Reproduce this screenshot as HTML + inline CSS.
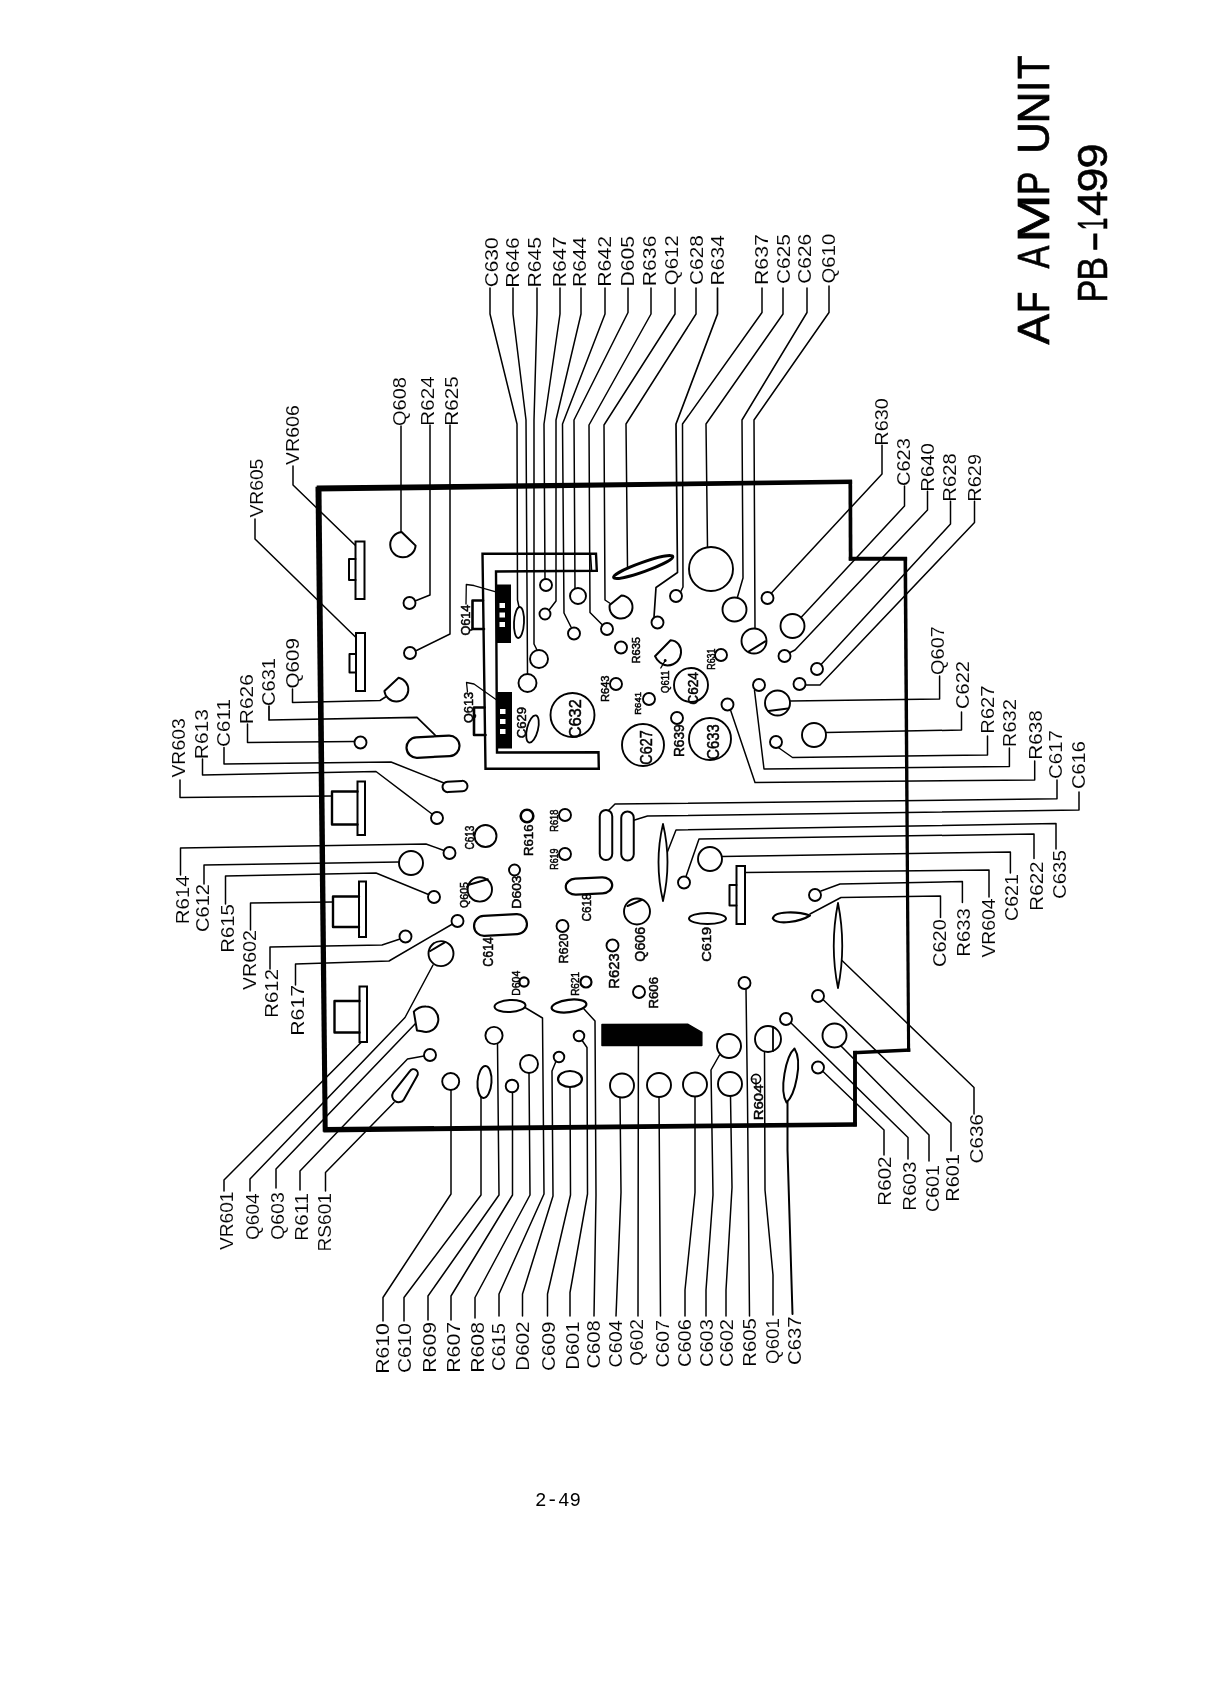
<!DOCTYPE html>
<html><head><meta charset="utf-8"><title>AF AMP UNIT PB-1499</title>
<style>
html,body{margin:0;padding:0;background:#fff;}
svg{display:block;}
text{font-family:"Liberation Sans",sans-serif;fill:#000;}
.mono{font-family:"Liberation Mono",monospace;}
</style></head><body>
<svg width="1220" height="1682" viewBox="0 0 1220 1682">
<rect x="0" y="0" width="1220" height="1682" fill="#fff"/>
<g opacity="0.999">
<polygon points="316.74,491.62 852.13,483.98 852.07,479.58 316.66,485.62" fill="#000"/>
<polygon points="848.44,480.01 848.76,560.61 852.46,560.59 852.14,479.99" fill="#000"/>
<polygon points="848.80,560.80 907.10,560.80 907.10,556.80 848.80,556.80" fill="#000"/>
<polygon points="903.49,557.01 907.06,1051.81 910.16,1051.79 907.09,556.99" fill="#000"/>
<polygon points="910.31,1048.16 853.11,1050.89 853.29,1054.49 910.48,1051.66" fill="#000"/>
<polygon points="853.05,1050.80 853.05,1126.30 856.95,1126.30 856.95,1050.80" fill="#000"/>
<polygon points="856.78,1122.28 323.37,1127.12 323.43,1132.52 856.82,1126.68" fill="#000"/>
<polygon points="327.72,1131.57 321.48,486.77 315.48,486.83 322.72,1131.63" fill="#000"/>
<polyline points="490,288 490,314 517,424 517.5,600 519,607" fill="none" stroke="#000" stroke-width="1.5" stroke-linejoin="round" stroke-linecap="round" />
<polyline points="513,288 513,314 526,420 527.5,674" fill="none" stroke="#000" stroke-width="1.5" stroke-linejoin="round" stroke-linecap="round" />
<polyline points="537,288 537,314 534,420 534,644 537.5,651" fill="none" stroke="#000" stroke-width="1.5" stroke-linejoin="round" stroke-linecap="round" />
<polyline points="560,288 560,314 544,424 545,579" fill="none" stroke="#000" stroke-width="1.5" stroke-linejoin="round" stroke-linecap="round" />
<polyline points="581,288 581,314 556,420 556,601 549.5,609.5" fill="none" stroke="#000" stroke-width="1.5" stroke-linejoin="round" stroke-linecap="round" />
<polyline points="605,288 605,314 562.5,424 564,613 571,627" fill="none" stroke="#000" stroke-width="1.5" stroke-linejoin="round" stroke-linecap="round" />
<polyline points="628,288 628,312.5 574,420 575,588" fill="none" stroke="#000" stroke-width="1.5" stroke-linejoin="round" stroke-linecap="round" />
<polyline points="651,288 651,314 589,425 590,612.5 602.5,625" fill="none" stroke="#000" stroke-width="1.5" stroke-linejoin="round" stroke-linecap="round" />
<polyline points="675,288 675,314 604,425 605,600 611,604" fill="none" stroke="#000" stroke-width="1.5" stroke-linejoin="round" stroke-linecap="round" />
<polyline points="696,288 696,314 626,424 627.5,567" fill="none" stroke="#000" stroke-width="1.5" stroke-linejoin="round" stroke-linecap="round" />
<polyline points="717.5,288 717.5,314 676,424 677.5,572.5 656,587.5 654,617" fill="none" stroke="#000" stroke-width="1.7" stroke-linejoin="round" stroke-linecap="round" />
<polyline points="762,288 762,312.5 682.5,424 683,587 680,593" fill="none" stroke="#000" stroke-width="1.5" stroke-linejoin="round" stroke-linecap="round" />
<polyline points="783,288 783,314 706,424 707.5,547" fill="none" stroke="#000" stroke-width="1.5" stroke-linejoin="round" stroke-linecap="round" />
<polyline points="807,288 807,312.5 742,420 743,578 737.5,597" fill="none" stroke="#000" stroke-width="1.5" stroke-linejoin="round" stroke-linecap="round" />
<polyline points="829,286 829,312.5 754,420 755,628" fill="none" stroke="#000" stroke-width="1.5" stroke-linejoin="round" stroke-linecap="round" />
<polyline points="293,466 293,485 356,546" fill="none" stroke="#000" stroke-width="1.5" stroke-linejoin="round" stroke-linecap="round" />
<polyline points="255,519 255,539 356,637.5" fill="none" stroke="#000" stroke-width="1.5" stroke-linejoin="round" stroke-linecap="round" />
<polyline points="401,426 401,533" fill="none" stroke="#000" stroke-width="1.5" stroke-linejoin="round" stroke-linecap="round" />
<polyline points="430,425 430,595 415,601" fill="none" stroke="#000" stroke-width="1.5" stroke-linejoin="round" stroke-linecap="round" />
<polyline points="450,425 450,634 415.5,651" fill="none" stroke="#000" stroke-width="1.5" stroke-linejoin="round" stroke-linecap="round" />
<polyline points="292.5,689 292.5,702.5 380,700.5 385.5,697" fill="none" stroke="#000" stroke-width="1.5" stroke-linejoin="round" stroke-linecap="round" />
<polyline points="269,706 269,720 417,717.3 436,736" fill="none" stroke="#000" stroke-width="1.7" stroke-linejoin="round" stroke-linecap="round" />
<polyline points="247.5,724 247.5,742.5 354,741.5" fill="none" stroke="#000" stroke-width="1.5" stroke-linejoin="round" stroke-linecap="round" />
<polyline points="224,747.5 224,764 391,762 444,783" fill="none" stroke="#000" stroke-width="1.5" stroke-linejoin="round" stroke-linecap="round" />
<polyline points="202.5,759 202.5,775 376,771.5 432,814" fill="none" stroke="#000" stroke-width="1.5" stroke-linejoin="round" stroke-linecap="round" />
<polyline points="180,780 180,797.5 332,796" fill="none" stroke="#000" stroke-width="1.5" stroke-linejoin="round" stroke-linecap="round" />
<polyline points="180.5,875 180.5,848 426,844 444,850.5" fill="none" stroke="#000" stroke-width="1.5" stroke-linejoin="round" stroke-linecap="round" />
<polyline points="204,884 204,865 399,862" fill="none" stroke="#000" stroke-width="1.5" stroke-linejoin="round" stroke-linecap="round" />
<polyline points="225.5,904 225.5,876 376,873 428.5,894.5" fill="none" stroke="#000" stroke-width="1.5" stroke-linejoin="round" stroke-linecap="round" />
<polyline points="250.5,930 250.5,903 333,902" fill="none" stroke="#000" stroke-width="1.5" stroke-linejoin="round" stroke-linecap="round" />
<polyline points="270,969 270,947 382,945 400,939" fill="none" stroke="#000" stroke-width="1.5" stroke-linejoin="round" stroke-linecap="round" />
<polyline points="295.5,985 295.5,964 389,961 452.5,924" fill="none" stroke="#000" stroke-width="1.5" stroke-linejoin="round" stroke-linecap="round" />
<polyline points="224,1191 224,1180 361,1042.5" fill="none" stroke="#000" stroke-width="1.5" stroke-linejoin="round" stroke-linecap="round" />
<polyline points="250,1191 250,1179 405,1017.5 433,965" fill="none" stroke="#000" stroke-width="1.5" stroke-linejoin="round" stroke-linecap="round" />
<polyline points="276,1188 276,1169 416,1023" fill="none" stroke="#000" stroke-width="1.5" stroke-linejoin="round" stroke-linecap="round" />
<polyline points="300,1190 300,1171 407.5,1059 424,1056" fill="none" stroke="#000" stroke-width="1.5" stroke-linejoin="round" stroke-linecap="round" />
<polyline points="325.5,1191 325.5,1172.5 394,1102.5" fill="none" stroke="#000" stroke-width="1.5" stroke-linejoin="round" stroke-linecap="round" />
<polyline points="383,1321 383,1297.5 451,1194 451,1090" fill="none" stroke="#000" stroke-width="1.5" stroke-linejoin="round" stroke-linecap="round" />
<polyline points="404,1321 404,1297.5 481,1195 481,1097" fill="none" stroke="#000" stroke-width="1.5" stroke-linejoin="round" stroke-linecap="round" />
<polyline points="428,1320 428,1296 499,1195 497.5,1044" fill="none" stroke="#000" stroke-width="1.5" stroke-linejoin="round" stroke-linecap="round" />
<polyline points="451,1320 451,1296 512.5,1195 512.5,1092" fill="none" stroke="#000" stroke-width="1.5" stroke-linejoin="round" stroke-linecap="round" />
<polyline points="475,1318 475,1297.5 530,1195 529,1072" fill="none" stroke="#000" stroke-width="1.5" stroke-linejoin="round" stroke-linecap="round" />
<polyline points="499,1316 499,1294 544,1194 542.5,1018 525,1007.5" fill="none" stroke="#000" stroke-width="1.5" stroke-linejoin="round" stroke-linecap="round" />
<polyline points="522.5,1316 522.5,1294 553,1196 552,1071 555.5,1062.5" fill="none" stroke="#000" stroke-width="1.5" stroke-linejoin="round" stroke-linecap="round" />
<polyline points="547.5,1316 547.5,1294 570.5,1195 570,1087" fill="none" stroke="#000" stroke-width="1.5" stroke-linejoin="round" stroke-linecap="round" />
<polyline points="570,1316 570,1292.5 587.5,1194 587,1047.5 582.5,1041" fill="none" stroke="#000" stroke-width="1.5" stroke-linejoin="round" stroke-linecap="round" />
<polyline points="594,1316 596,1195 595,1021 584,1009" fill="none" stroke="#000" stroke-width="1.5" stroke-linejoin="round" stroke-linecap="round" />
<polyline points="616,1316 621,1192.5 620,1097" fill="none" stroke="#000" stroke-width="1.5" stroke-linejoin="round" stroke-linecap="round" />
<polyline points="638,1316 638.4,1045" fill="none" stroke="#000" stroke-width="1.5" stroke-linejoin="round" stroke-linecap="round" />
<polyline points="660.5,1316 659,1097" fill="none" stroke="#000" stroke-width="1.5" stroke-linejoin="round" stroke-linecap="round" />
<polyline points="685,1316 685,1290 695,1192.5 695,1096" fill="none" stroke="#000" stroke-width="1.5" stroke-linejoin="round" stroke-linecap="round" />
<polyline points="706,1316 706,1290 713,1195 711,1070 719.5,1055" fill="none" stroke="#000" stroke-width="1.5" stroke-linejoin="round" stroke-linecap="round" />
<polyline points="726,1316 726,1290 732,1187.5 730.5,1096" fill="none" stroke="#000" stroke-width="1.5" stroke-linejoin="round" stroke-linecap="round" />
<polyline points="749.5,1316 747.5,1100 746,989" fill="none" stroke="#000" stroke-width="1.5" stroke-linejoin="round" stroke-linecap="round" />
<polyline points="773,1315 773,1275 765,1190 764.5,1052" fill="none" stroke="#000" stroke-width="1.5" stroke-linejoin="round" stroke-linecap="round" />
<polyline points="792.5,1314 787.5,1150 787.5,1102" fill="none" stroke="#000" stroke-width="2.0" stroke-linejoin="round" stroke-linecap="round" />
<polyline points="882,445 882,474 771.5,593" fill="none" stroke="#000" stroke-width="1.5" stroke-linejoin="round" stroke-linecap="round" />
<polyline points="904.5,486 904.5,506 801,617.5" fill="none" stroke="#000" stroke-width="1.5" stroke-linejoin="round" stroke-linecap="round" />
<polyline points="927.5,491 927.5,510 795,650 790,652.5" fill="none" stroke="#000" stroke-width="1.5" stroke-linejoin="round" stroke-linecap="round" />
<polyline points="950.5,501 950.5,524 821.5,664" fill="none" stroke="#000" stroke-width="1.5" stroke-linejoin="round" stroke-linecap="round" />
<polyline points="974.5,501 974.5,522.5 820,685 805.5,685" fill="none" stroke="#000" stroke-width="1.5" stroke-linejoin="round" stroke-linecap="round" />
<polyline points="939.6,676 939.6,699 790.5,701" fill="none" stroke="#000" stroke-width="1.5" stroke-linejoin="round" stroke-linecap="round" />
<polyline points="961.5,712 961.5,730 826,732.5" fill="none" stroke="#000" stroke-width="1.5" stroke-linejoin="round" stroke-linecap="round" />
<polyline points="987.5,736 987.5,755 792.5,757.5 779,748" fill="none" stroke="#000" stroke-width="1.5" stroke-linejoin="round" stroke-linecap="round" />
<polyline points="1009.4,748 1009.4,766.5 764,769 754.5,690.5" fill="none" stroke="#000" stroke-width="1.5" stroke-linejoin="round" stroke-linecap="round" />
<polyline points="1034.7,761 1034.7,780 755,782.5 730.5,710" fill="none" stroke="#000" stroke-width="1.5" stroke-linejoin="round" stroke-linecap="round" />
<polyline points="1057,780 1057,798.8 615,804 609,810" fill="none" stroke="#000" stroke-width="1.5" stroke-linejoin="round" stroke-linecap="round" />
<polyline points="1079,792 1079,810 647.5,816 633,820.5" fill="none" stroke="#000" stroke-width="1.5" stroke-linejoin="round" stroke-linecap="round" />
<polyline points="1056,849 1056,823.5 676,830 667,853" fill="none" stroke="#000" stroke-width="1.5" stroke-linejoin="round" stroke-linecap="round" />
<polyline points="1034,858.5 1034,834 699,839 686,876.5" fill="none" stroke="#000" stroke-width="1.5" stroke-linejoin="round" stroke-linecap="round" />
<polyline points="1010.4,873 1010.4,852 722,856.5" fill="none" stroke="#000" stroke-width="1.5" stroke-linejoin="round" stroke-linecap="round" />
<polyline points="989,897 989,870 745,872.5" fill="none" stroke="#000" stroke-width="1.5" stroke-linejoin="round" stroke-linecap="round" />
<polyline points="962.4,902.5 962.4,881.6 840,884 821,891" fill="none" stroke="#000" stroke-width="1.5" stroke-linejoin="round" stroke-linecap="round" />
<polyline points="940.5,917.5 940.5,896 841,897.5 810,914" fill="none" stroke="#000" stroke-width="1.5" stroke-linejoin="round" stroke-linecap="round" />
<polyline points="974,1114 974,1087.5 842,960.5" fill="none" stroke="#000" stroke-width="1.5" stroke-linejoin="round" stroke-linecap="round" />
<polyline points="951,1151 951,1123 823.5,1000" fill="none" stroke="#000" stroke-width="1.5" stroke-linejoin="round" stroke-linecap="round" />
<polyline points="929,1161 929,1135 841,1046" fill="none" stroke="#000" stroke-width="1.5" stroke-linejoin="round" stroke-linecap="round" />
<polyline points="908,1159 908,1137.5 791,1023" fill="none" stroke="#000" stroke-width="1.5" stroke-linejoin="round" stroke-linecap="round" />
<polyline points="884,1155 884,1130 823,1071.5" fill="none" stroke="#000" stroke-width="1.5" stroke-linejoin="round" stroke-linecap="round" />
<path d="M482.5,553.8 L596,553.8 L596.8,570.8 L496,571.5 L497,752.5 L598.5,752.3 L598.8,768.8 L485.5,768.8 Z" fill="none" stroke="#000" stroke-width="2.4" stroke-linejoin="miter"/>
<polyline points="590.5,555 591.5,570" fill="none" stroke="#000" stroke-width="1.6" stroke-linejoin="round" stroke-linecap="round" />
<rect x="496.5" y="585" width="14" height="57.5" fill="#000" stroke="#000" stroke-width="1"/>
<rect x="499.5" y="603" width="5.5" height="5" fill="#fff" stroke="#000" stroke-width="0"/>
<rect x="499.5" y="612.5" width="5.5" height="5" fill="#fff" stroke="#000" stroke-width="0"/>
<rect x="499.5" y="622" width="5.5" height="5" fill="#fff" stroke="#000" stroke-width="0"/>
<rect x="497" y="692.5" width="14.5" height="55.5" fill="#000" stroke="#000" stroke-width="1"/>
<rect x="500" y="709" width="5.5" height="5" fill="#fff" stroke="#000" stroke-width="0"/>
<rect x="500" y="719" width="5.5" height="5" fill="#fff" stroke="#000" stroke-width="0"/>
<rect x="500" y="729" width="5.5" height="5" fill="#fff" stroke="#000" stroke-width="0"/>
<polyline points="483,600.5 472.5,600.5 472.5,629 484,629" fill="none" stroke="#000" stroke-width="2.6" stroke-linejoin="round" stroke-linecap="round" />
<polyline points="484.5,707.5 474,707.5 474,735 485.5,735" fill="none" stroke="#000" stroke-width="2.6" stroke-linejoin="round" stroke-linecap="round" />
<polyline points="466,604 466.3,584.5 474,585.5 495,591.5" fill="none" stroke="#000" stroke-width="1.3" stroke-linejoin="round" stroke-linecap="round" />
<polyline points="467.5,692 466.5,682.5 474,684 496,699.5" fill="none" stroke="#000" stroke-width="1.3" stroke-linejoin="round" stroke-linecap="round" />
<rect x="355.5" y="541.5" width="9" height="57.5" fill="#fff" stroke="#000" stroke-width="2"/>
<polyline points="355.5,559 349,559 349,580 355.5,580" fill="none" stroke="#000" stroke-width="2" stroke-linejoin="round" stroke-linecap="round" />
<rect x="356" y="633" width="9" height="58" fill="#fff" stroke="#000" stroke-width="2"/>
<polyline points="356,654 349.5,654 349.5,672.5 356,672.5" fill="none" stroke="#000" stroke-width="2" stroke-linejoin="round" stroke-linecap="round" />
<rect x="736.5" y="866" width="8.5" height="58" fill="#fff" stroke="#000" stroke-width="2"/>
<polyline points="736.5,885 729.5,885 729.5,905.5 736.5,905.5" fill="none" stroke="#000" stroke-width="2" stroke-linejoin="round" stroke-linecap="round" />
<rect x="357.5" y="781.5" width="7.5" height="53.5" fill="#fff" stroke="#000" stroke-width="2"/>
<polyline points="357.5,791.5 332,791.5 332,824.5 357.5,824.5" fill="none" stroke="#000" stroke-width="2.4" stroke-linejoin="round" stroke-linecap="round" />
<rect x="359" y="881.5" width="7" height="55.5" fill="#fff" stroke="#000" stroke-width="2"/>
<polyline points="359,896.5 333,896.5 333,927 359,927" fill="none" stroke="#000" stroke-width="2.4" stroke-linejoin="round" stroke-linecap="round" />
<rect x="359.5" y="986.5" width="7.5" height="55.5" fill="#fff" stroke="#000" stroke-width="2"/>
<polyline points="359.5,1001 334.5,1001 334.5,1032.5 359.5,1032.5" fill="none" stroke="#000" stroke-width="2.4" stroke-linejoin="round" stroke-linecap="round" />
<path d="M401.6,532 L415.6,545.6 A12.7,12.7 0 1 1 401.6,532 Z" fill="#fff" stroke="#000" stroke-width="2" stroke-linejoin="round"/>
<path d="M384.4,691 L398.6,677.8 A12,12 0 1 1 384.4,691 Z" fill="#fff" stroke="#000" stroke-width="2" stroke-linejoin="round"/>
<path d="M609.7,605 L621.4,595.5 A11.5,11.5 0 1 1 609.7,605 Z" fill="#fff" stroke="#000" stroke-width="2" stroke-linejoin="round"/>
<circle cx="409.5" cy="603" r="6" fill="#fff" stroke="#000" stroke-width="1.9"/>
<circle cx="410" cy="653" r="6" fill="#fff" stroke="#000" stroke-width="1.9"/>
<circle cx="360.5" cy="742.5" r="6" fill="#fff" stroke="#000" stroke-width="1.9"/>
<circle cx="437" cy="818" r="6" fill="#fff" stroke="#000" stroke-width="1.9"/>
<circle cx="449.5" cy="853" r="6" fill="#fff" stroke="#000" stroke-width="1.9"/>
<circle cx="411" cy="863" r="12" fill="#fff" stroke="#000" stroke-width="1.9"/>
<circle cx="434" cy="897" r="6" fill="#fff" stroke="#000" stroke-width="1.9"/>
<circle cx="405.5" cy="936.5" r="6" fill="#fff" stroke="#000" stroke-width="1.9"/>
<circle cx="457.5" cy="921" r="6" fill="#fff" stroke="#000" stroke-width="1.9"/>
<circle cx="546" cy="585" r="6" fill="#fff" stroke="#000" stroke-width="1.9"/>
<circle cx="545" cy="614" r="5.5" fill="#fff" stroke="#000" stroke-width="1.9"/>
<circle cx="578" cy="596" r="8" fill="#fff" stroke="#000" stroke-width="1.9"/>
<circle cx="574" cy="633.5" r="6" fill="#fff" stroke="#000" stroke-width="1.9"/>
<circle cx="607" cy="629" r="6" fill="#fff" stroke="#000" stroke-width="1.9"/>
<circle cx="539" cy="659" r="9" fill="#fff" stroke="#000" stroke-width="1.9"/>
<circle cx="527.5" cy="683" r="9" fill="#fff" stroke="#000" stroke-width="1.9"/>
<circle cx="621" cy="647.5" r="6" fill="#fff" stroke="#000" stroke-width="1.9"/>
<circle cx="616" cy="684" r="6" fill="#fff" stroke="#000" stroke-width="1.9"/>
<circle cx="649" cy="699" r="6" fill="#fff" stroke="#000" stroke-width="1.9"/>
<circle cx="677" cy="718" r="6" fill="#fff" stroke="#000" stroke-width="1.9"/>
<circle cx="721" cy="655" r="6" fill="#fff" stroke="#000" stroke-width="1.9"/>
<circle cx="691" cy="685" r="17" fill="#fff" stroke="#000" stroke-width="1.9"/>
<circle cx="572.5" cy="715" r="22" fill="#fff" stroke="#000" stroke-width="1.9"/>
<circle cx="643" cy="745" r="21" fill="#fff" stroke="#000" stroke-width="1.9"/>
<circle cx="710" cy="739" r="21" fill="#fff" stroke="#000" stroke-width="1.9"/>
<circle cx="727.5" cy="704.5" r="6" fill="#fff" stroke="#000" stroke-width="1.9"/>
<circle cx="676" cy="596" r="6" fill="#fff" stroke="#000" stroke-width="1.9"/>
<circle cx="657.5" cy="622.5" r="6" fill="#fff" stroke="#000" stroke-width="1.9"/>
<circle cx="711" cy="569" r="22" fill="#fff" stroke="#000" stroke-width="1.9"/>
<circle cx="734.5" cy="609.5" r="12" fill="#fff" stroke="#000" stroke-width="1.9"/>
<circle cx="754" cy="641" r="12.5" fill="#fff" stroke="#000" stroke-width="1.9"/>
<polyline points="748.6,651.6 765.2,641.4" fill="none" stroke="#000" stroke-width="2" stroke-linejoin="round" stroke-linecap="round" />
<circle cx="767.5" cy="598" r="6" fill="#fff" stroke="#000" stroke-width="1.9"/>
<circle cx="792.5" cy="626" r="12" fill="#fff" stroke="#000" stroke-width="1.9"/>
<circle cx="784.5" cy="656" r="6" fill="#fff" stroke="#000" stroke-width="1.9"/>
<circle cx="817" cy="669" r="6" fill="#fff" stroke="#000" stroke-width="1.9"/>
<circle cx="799.5" cy="684" r="6" fill="#fff" stroke="#000" stroke-width="1.9"/>
<circle cx="759" cy="685" r="6" fill="#fff" stroke="#000" stroke-width="1.9"/>
<circle cx="777.5" cy="703" r="12.5" fill="#fff" stroke="#000" stroke-width="1.9"/>
<polyline points="768.5,711 788,708.5" fill="none" stroke="#000" stroke-width="2" stroke-linejoin="round" stroke-linecap="round" />
<circle cx="814" cy="735" r="12" fill="#fff" stroke="#000" stroke-width="1.9"/>
<circle cx="776" cy="742" r="6" fill="#fff" stroke="#000" stroke-width="1.9"/>
<path d="M655,656.2 L670.6,640.3 C685,641 685,664.5 667.5,665.6 C662,665 657,661 655,656.2 Z" fill="#fff" stroke="#000" stroke-width="2" stroke-linejoin="round"/>
<circle cx="665.2" cy="660.5" r="0.9" fill="#000" stroke="#000" stroke-width="1.2"/>
<polyline points="665.2,660.5 660.8,668" fill="none" stroke="#000" stroke-width="1.4" stroke-linejoin="round" stroke-linecap="round" />
<circle cx="527" cy="816" r="6.3" fill="#fff" stroke="#000" stroke-width="2.6"/>
<circle cx="565" cy="815" r="6" fill="#fff" stroke="#000" stroke-width="1.9"/>
<circle cx="565" cy="854" r="6" fill="#fff" stroke="#000" stroke-width="1.9"/>
<circle cx="485.5" cy="836" r="11" fill="#fff" stroke="#000" stroke-width="1.9"/>
<circle cx="514.5" cy="870" r="5.5" fill="#fff" stroke="#000" stroke-width="1.9"/>
<circle cx="479.8" cy="889.4" r="12.2" fill="#fff" stroke="#000" stroke-width="1.9"/>
<polyline points="468,885 487.8,879.2" fill="none" stroke="#000" stroke-width="2" stroke-linejoin="round" stroke-linecap="round" />
<circle cx="562.5" cy="926" r="6" fill="#fff" stroke="#000" stroke-width="1.9"/>
<circle cx="637" cy="911.5" r="13" fill="#fff" stroke="#000" stroke-width="1.9"/>
<polyline points="627.5,906 641.5,900" fill="none" stroke="#000" stroke-width="2" stroke-linejoin="round" stroke-linecap="round" />
<circle cx="612.5" cy="945.5" r="6" fill="#fff" stroke="#000" stroke-width="1.9"/>
<circle cx="639" cy="992" r="6" fill="#fff" stroke="#000" stroke-width="1.9"/>
<circle cx="524" cy="982" r="4.6" fill="#fff" stroke="#000" stroke-width="2.2"/>
<circle cx="586" cy="982" r="5.5" fill="#fff" stroke="#000" stroke-width="2.2"/>
<circle cx="684" cy="882.5" r="6" fill="#fff" stroke="#000" stroke-width="1.9"/>
<circle cx="710" cy="859" r="12" fill="#fff" stroke="#000" stroke-width="1.9"/>
<circle cx="815" cy="895" r="6" fill="#fff" stroke="#000" stroke-width="1.9"/>
<circle cx="441" cy="953.6" r="12.5" fill="#fff" stroke="#000" stroke-width="1.9"/>
<polyline points="430.3,951 444.8,942.3" fill="none" stroke="#000" stroke-width="2" stroke-linejoin="round" stroke-linecap="round" />
<path d="M413.8,1011.6 Q419,1006.3 426,1006.6 A12.3,12.7 0 1 1 422,1031.3 L417,1030.6 Z" fill="#fff" stroke="#000" stroke-width="2" stroke-linejoin="round"/>
<circle cx="430" cy="1055" r="6" fill="#fff" stroke="#000" stroke-width="1.9"/>
<circle cx="450.7" cy="1081.5" r="8.5" fill="#fff" stroke="#000" stroke-width="1.9"/>
<circle cx="494" cy="1035.5" r="8.6" fill="#fff" stroke="#000" stroke-width="1.9"/>
<circle cx="529" cy="1064" r="9" fill="#fff" stroke="#000" stroke-width="1.9"/>
<circle cx="512" cy="1086" r="6.3" fill="#fff" stroke="#000" stroke-width="1.9"/>
<circle cx="579" cy="1036" r="5.3" fill="#fff" stroke="#000" stroke-width="1.9"/>
<circle cx="559" cy="1057" r="5.3" fill="#fff" stroke="#000" stroke-width="1.9"/>
<circle cx="622" cy="1085.5" r="12" fill="#fff" stroke="#000" stroke-width="1.9"/>
<circle cx="659" cy="1085" r="12" fill="#fff" stroke="#000" stroke-width="1.9"/>
<circle cx="695" cy="1084.5" r="12" fill="#fff" stroke="#000" stroke-width="1.9"/>
<circle cx="730" cy="1084" r="12" fill="#fff" stroke="#000" stroke-width="1.9"/>
<circle cx="729" cy="1046" r="12" fill="#fff" stroke="#000" stroke-width="1.9"/>
<circle cx="744.5" cy="983" r="6" fill="#fff" stroke="#000" stroke-width="1.9"/>
<circle cx="786" cy="1019" r="6" fill="#fff" stroke="#000" stroke-width="1.9"/>
<circle cx="818" cy="996" r="6" fill="#fff" stroke="#000" stroke-width="1.9"/>
<circle cx="834.5" cy="1035.5" r="12" fill="#fff" stroke="#000" stroke-width="1.9"/>
<circle cx="818" cy="1067.5" r="6" fill="#fff" stroke="#000" stroke-width="1.9"/>
<circle cx="768" cy="1039" r="13" fill="#fff" stroke="#000" stroke-width="1.9"/>
<polyline points="773,1027 773,1051" fill="none" stroke="#000" stroke-width="1.8" stroke-linejoin="round" stroke-linecap="round" />
<circle cx="756" cy="1079" r="4.6" fill="#fff" stroke="#000" stroke-width="1.6"/>
<polyline points="752.5,1079 756,1079 756,1087" fill="none" stroke="#000" stroke-width="1.2" stroke-linejoin="round" stroke-linecap="round" />
<rect x="406.5" y="736.45" width="53" height="20.5" rx="10.25" ry="10.25" fill="#fff" stroke="#000" stroke-width="2.2" transform="rotate(-3 433 746.7)"/>
<rect x="442.5" y="781.25" width="25" height="10.5" rx="5.25" ry="5.25" fill="#fff" stroke="#000" stroke-width="2" transform="rotate(-3 455 786.5)"/>
<ellipse cx="519" cy="622.5" rx="5" ry="15.5" fill="#fff" stroke="#000" stroke-width="1.8" transform="rotate(3 519 622.5)"/>
<ellipse cx="643.2" cy="567" rx="31.5" ry="4.6" fill="#fff" stroke="#000" stroke-width="2.8" transform="rotate(-19.6 643.2 567)"/>
<ellipse cx="532.5" cy="729" rx="5.5" ry="14" fill="#fff" stroke="#000" stroke-width="1.8" transform="rotate(14 532.5 729)"/>
<rect x="599.75" y="810" width="12.5" height="50" rx="6.25" ry="6.25" fill="#fff" stroke="#000" stroke-width="2" transform="rotate(0 606 835)"/>
<rect x="621.25" y="811.5" width="12.5" height="49" rx="6.25" ry="6.25" fill="#fff" stroke="#000" stroke-width="2" transform="rotate(0 627.5 836)"/>
<path d="M663,824 Q672,862 663,901 Q654,862 663,824 Z" fill="#fff" stroke="#000" stroke-width="1.8" stroke-linejoin="round"/>
<rect x="474" y="915" width="53" height="20" rx="10" ry="10" fill="#fff" stroke="#000" stroke-width="2.2" transform="rotate(-3 500.5 925)"/>
<rect x="565.75" y="878" width="46.5" height="16" rx="10" ry="8" fill="#fff" stroke="#000" stroke-width="2.2" transform="rotate(-3 589 886)"/>
<ellipse cx="707.5" cy="918.5" rx="18.5" ry="5.5" fill="#fff" stroke="#000" stroke-width="2" transform="rotate(0 707.5 918.5)"/>
<path d="M772.8,918.5 C774,911 797,911 810,915.5 C800,922 777,925.5 772.8,918.5 Z" fill="#fff" stroke="#000" stroke-width="2.1" stroke-linejoin="round"/>
<path d="M838,903 Q846.5,946 838,988 Q829.5,946 838,903 Z" fill="#fff" stroke="#000" stroke-width="1.8" stroke-linejoin="round"/>
<path d="M417.1,1075.9 A4.3,4.3 0 0 0 409.9,1071.1 L393.1,1092.4 A6.5,6.5 0 0 0 403.9,1099.6 Z" fill="#fff" stroke="#000" stroke-width="2" stroke-linejoin="round"/>
<ellipse cx="510" cy="1006" rx="15.5" ry="6" fill="#fff" stroke="#000" stroke-width="2" transform="rotate(-3 510 1006)"/>
<ellipse cx="569" cy="1006" rx="17.5" ry="6.2" fill="#fff" stroke="#000" stroke-width="2.2" transform="rotate(-7 569 1006)"/>
<ellipse cx="570" cy="1079" rx="12" ry="8" fill="#fff" stroke="#000" stroke-width="2.2" transform="rotate(0 570 1079)"/>
<ellipse cx="484.5" cy="1082" rx="7" ry="16" fill="#fff" stroke="#000" stroke-width="2" transform="rotate(4 484.5 1082)"/>
<path d="M794.5,1048.5 C803,1062 795,1095 786.5,1102.5 C779,1090 786,1056 794.5,1048.5 Z" fill="#fff" stroke="#000" stroke-width="2" stroke-linejoin="round"/>
<path d="M602,1024.6 L688,1024.3 L701.8,1032.4 L701.8,1045.5 L602,1045.5 Z" fill="#000" stroke="#000" stroke-width="1.5" stroke-linejoin="round"/>
<text transform="translate(497.5,287.36) rotate(-90)" font-size="18.6" font-weight="normal" textLength="49.87" lengthAdjust="spacingAndGlyphs" stroke="#fff" stroke-width="0.1">C630</text>
<text transform="translate(519,287.80) rotate(-90)" font-size="18.6" font-weight="normal" textLength="50.67" lengthAdjust="spacingAndGlyphs" stroke="#fff" stroke-width="0.1">R646</text>
<text transform="translate(541,287.55) rotate(-90)" font-size="18.6" font-weight="normal" textLength="50.63" lengthAdjust="spacingAndGlyphs" stroke="#fff" stroke-width="0.1">R645</text>
<text transform="translate(566,287.27) rotate(-90)" font-size="18.6" font-weight="normal" textLength="50.81" lengthAdjust="spacingAndGlyphs" stroke="#fff" stroke-width="0.1">R647</text>
<text transform="translate(586,287.03) rotate(-90)" font-size="18.6" font-weight="normal" textLength="50.34" lengthAdjust="spacingAndGlyphs" stroke="#fff" stroke-width="0.1">R644</text>
<text transform="translate(611,286.77) rotate(-90)" font-size="18.6" font-weight="normal" textLength="50.81" lengthAdjust="spacingAndGlyphs" stroke="#fff" stroke-width="0.1">R642</text>
<text transform="translate(634,286.50) rotate(-90)" font-size="18.6" font-weight="normal" textLength="50.63" lengthAdjust="spacingAndGlyphs" stroke="#fff" stroke-width="0.1">D605</text>
<text transform="translate(656,286.25) rotate(-90)" font-size="18.6" font-weight="normal" textLength="50.67" lengthAdjust="spacingAndGlyphs" stroke="#fff" stroke-width="0.1">R636</text>
<text transform="translate(677.5,285.24) rotate(-90)" font-size="18.6" font-weight="normal" textLength="50.00" lengthAdjust="spacingAndGlyphs" stroke="#fff" stroke-width="0.1">Q612</text>
<text transform="translate(702.5,285.05) rotate(-90)" font-size="18.6" font-weight="normal" textLength="49.97" lengthAdjust="spacingAndGlyphs" stroke="#fff" stroke-width="0.1">C628</text>
<text transform="translate(724,285.48) rotate(-90)" font-size="18.6" font-weight="normal" textLength="50.34" lengthAdjust="spacingAndGlyphs" stroke="#fff" stroke-width="0.1">R634</text>
<text transform="translate(767.5,285.00) rotate(-90)" font-size="18.6" font-weight="normal" textLength="50.81" lengthAdjust="spacingAndGlyphs" stroke="#fff" stroke-width="0.1">R637</text>
<text transform="translate(790,284.07) rotate(-90)" font-size="18.6" font-weight="normal" textLength="49.94" lengthAdjust="spacingAndGlyphs" stroke="#fff" stroke-width="0.1">C625</text>
<text transform="translate(811,283.83) rotate(-90)" font-size="18.6" font-weight="normal" textLength="49.98" lengthAdjust="spacingAndGlyphs" stroke="#fff" stroke-width="0.1">C626</text>
<text transform="translate(835,283.46) rotate(-90)" font-size="18.6" font-weight="normal" textLength="49.76" lengthAdjust="spacingAndGlyphs" stroke="#fff" stroke-width="0.1">Q610</text>
<text transform="translate(298.75,465.09) rotate(-90)" font-size="18.6" font-weight="normal" textLength="59.95" lengthAdjust="spacingAndGlyphs" stroke="#fff" stroke-width="0.1">VR606</text>
<text transform="translate(262.5,517.58) rotate(-90)" font-size="18.6" font-weight="normal" textLength="58.89" lengthAdjust="spacingAndGlyphs" stroke="#fff" stroke-width="0.1">VR605</text>
<text transform="translate(406,425.95) rotate(-90)" font-size="18.6" font-weight="normal" textLength="48.81" lengthAdjust="spacingAndGlyphs" stroke="#fff" stroke-width="0.1">Q608</text>
<text transform="translate(433.75,425.69) rotate(-90)" font-size="18.6" font-weight="normal" textLength="49.30" lengthAdjust="spacingAndGlyphs" stroke="#fff" stroke-width="0.1">R624</text>
<text transform="translate(457.5,425.70) rotate(-90)" font-size="18.6" font-weight="normal" textLength="49.57" lengthAdjust="spacingAndGlyphs" stroke="#fff" stroke-width="0.1">R625</text>
<text transform="translate(298.75,688.48) rotate(-90)" font-size="18.6" font-weight="normal" textLength="50.45" lengthAdjust="spacingAndGlyphs" stroke="#fff" stroke-width="0.1">Q609</text>
<text transform="translate(275,706.02) rotate(-90)" font-size="18.6" font-weight="normal" textLength="48.00" lengthAdjust="spacingAndGlyphs" stroke="#fff" stroke-width="0.1">C631</text>
<text transform="translate(252.5,724.22) rotate(-90)" font-size="18.6" font-weight="normal" textLength="50.14" lengthAdjust="spacingAndGlyphs" stroke="#fff" stroke-width="0.1">R626</text>
<text transform="translate(230,747.02) rotate(-90)" font-size="18.6" font-weight="normal" textLength="48.00" lengthAdjust="spacingAndGlyphs" stroke="#fff" stroke-width="0.1">C611</text>
<text transform="translate(207.5,759.22) rotate(-90)" font-size="18.6" font-weight="normal" textLength="50.14" lengthAdjust="spacingAndGlyphs" stroke="#fff" stroke-width="0.1">R613</text>
<text transform="translate(185,777.59) rotate(-90)" font-size="18.6" font-weight="normal" textLength="59.44" lengthAdjust="spacingAndGlyphs" stroke="#fff" stroke-width="0.1">VR603</text>
<text transform="translate(189,924.17) rotate(-90)" font-size="18.6" font-weight="normal" textLength="48.77" lengthAdjust="spacingAndGlyphs" stroke="#fff" stroke-width="0.1">R614</text>
<text transform="translate(209,932.02) rotate(-90)" font-size="18.6" font-weight="normal" textLength="48.03" lengthAdjust="spacingAndGlyphs" stroke="#fff" stroke-width="0.1">C612</text>
<text transform="translate(234,952.66) rotate(-90)" font-size="18.6" font-weight="normal" textLength="48.52" lengthAdjust="spacingAndGlyphs" stroke="#fff" stroke-width="0.1">R615</text>
<text transform="translate(256,990.09) rotate(-90)" font-size="18.6" font-weight="normal" textLength="60.07" lengthAdjust="spacingAndGlyphs" stroke="#fff" stroke-width="0.1">VR602</text>
<text transform="translate(277.5,1017.67) rotate(-90)" font-size="18.6" font-weight="normal" textLength="48.70" lengthAdjust="spacingAndGlyphs" stroke="#fff" stroke-width="0.1">R612</text>
<text transform="translate(304,1035.74) rotate(-90)" font-size="18.6" font-weight="normal" textLength="50.81" lengthAdjust="spacingAndGlyphs" stroke="#fff" stroke-width="0.1">R617</text>
<text transform="translate(232.5,1250.08) rotate(-90)" font-size="18.6" font-weight="normal" textLength="58.52" lengthAdjust="spacingAndGlyphs" stroke="#fff" stroke-width="0.1">VR601</text>
<text transform="translate(258.75,1239.90) rotate(-90)" font-size="18.6" font-weight="normal" textLength="46.46" lengthAdjust="spacingAndGlyphs" stroke="#fff" stroke-width="0.1">Q604</text>
<text transform="translate(284,1239.93) rotate(-90)" font-size="18.6" font-weight="normal" textLength="47.78" lengthAdjust="spacingAndGlyphs" stroke="#fff" stroke-width="0.1">Q603</text>
<text transform="translate(307.5,1240.63) rotate(-90)" font-size="18.6" font-weight="normal" textLength="47.61" lengthAdjust="spacingAndGlyphs" stroke="#fff" stroke-width="0.1">R611</text>
<text transform="translate(331,1251.57) rotate(-90)" font-size="18.6" font-weight="normal" textLength="58.50" lengthAdjust="spacingAndGlyphs" stroke="#fff" stroke-width="0.1">RS601</text>
<text transform="translate(887.5,445.63) rotate(-90)" font-size="18.6" font-weight="normal" textLength="47.40" lengthAdjust="spacingAndGlyphs" stroke="#fff" stroke-width="0.1">R630</text>
<text transform="translate(910,486.02) rotate(-90)" font-size="18.6" font-weight="normal" textLength="47.90" lengthAdjust="spacingAndGlyphs" stroke="#fff" stroke-width="0.1">C623</text>
<text transform="translate(934,491.66) rotate(-90)" font-size="18.6" font-weight="normal" textLength="48.45" lengthAdjust="spacingAndGlyphs" stroke="#fff" stroke-width="0.1">R640</text>
<text transform="translate(956,501.67) rotate(-90)" font-size="18.6" font-weight="normal" textLength="48.55" lengthAdjust="spacingAndGlyphs" stroke="#fff" stroke-width="0.1">R628</text>
<text transform="translate(981,501.63) rotate(-90)" font-size="18.6" font-weight="normal" textLength="47.58" lengthAdjust="spacingAndGlyphs" stroke="#fff" stroke-width="0.1">R629</text>
<text transform="translate(944,674.95) rotate(-90)" font-size="18.6" font-weight="normal" textLength="48.95" lengthAdjust="spacingAndGlyphs" stroke="#fff" stroke-width="0.1">Q607</text>
<text transform="translate(969,709.02) rotate(-90)" font-size="18.6" font-weight="normal" textLength="48.03" lengthAdjust="spacingAndGlyphs" stroke="#fff" stroke-width="0.1">C622</text>
<text transform="translate(993.5,733.65) rotate(-90)" font-size="18.6" font-weight="normal" textLength="48.17" lengthAdjust="spacingAndGlyphs" stroke="#fff" stroke-width="0.1">R627</text>
<text transform="translate(1016,747.15) rotate(-90)" font-size="18.6" font-weight="normal" textLength="48.17" lengthAdjust="spacingAndGlyphs" stroke="#fff" stroke-width="0.1">R632</text>
<text transform="translate(1041.7,759.70) rotate(-90)" font-size="18.6" font-weight="normal" textLength="49.60" lengthAdjust="spacingAndGlyphs" stroke="#fff" stroke-width="0.1">R638</text>
<text transform="translate(1061.7,779.04) rotate(-90)" font-size="18.6" font-weight="normal" textLength="49.07" lengthAdjust="spacingAndGlyphs" stroke="#fff" stroke-width="0.1">C617</text>
<text transform="translate(1084.5,789.02) rotate(-90)" font-size="18.6" font-weight="normal" textLength="47.90" lengthAdjust="spacingAndGlyphs" stroke="#fff" stroke-width="0.1">C616</text>
<text transform="translate(1065.5,899.04) rotate(-90)" font-size="18.6" font-weight="normal" textLength="48.90" lengthAdjust="spacingAndGlyphs" stroke="#fff" stroke-width="0.1">C635</text>
<text transform="translate(1042.7,910.69) rotate(-90)" font-size="18.6" font-weight="normal" textLength="49.22" lengthAdjust="spacingAndGlyphs" stroke="#fff" stroke-width="0.1">R622</text>
<text transform="translate(1018,921.00) rotate(-90)" font-size="18.6" font-weight="normal" textLength="46.96" lengthAdjust="spacingAndGlyphs" stroke="#fff" stroke-width="0.1">C621</text>
<text transform="translate(995,957.59) rotate(-90)" font-size="18.6" font-weight="normal" textLength="59.15" lengthAdjust="spacingAndGlyphs" stroke="#fff" stroke-width="0.1">VR604</text>
<text transform="translate(970,956.67) rotate(-90)" font-size="18.6" font-weight="normal" textLength="48.56" lengthAdjust="spacingAndGlyphs" stroke="#fff" stroke-width="0.1">R633</text>
<text transform="translate(946,967.02) rotate(-90)" font-size="18.6" font-weight="normal" textLength="47.80" lengthAdjust="spacingAndGlyphs" stroke="#fff" stroke-width="0.1">C620</text>
<text transform="translate(891,1205.69) rotate(-90)" font-size="18.6" font-weight="normal" textLength="49.22" lengthAdjust="spacingAndGlyphs" stroke="#fff" stroke-width="0.1">R602</text>
<text transform="translate(916,1210.68) rotate(-90)" font-size="18.6" font-weight="normal" textLength="49.09" lengthAdjust="spacingAndGlyphs" stroke="#fff" stroke-width="0.1">R603</text>
<text transform="translate(939,1212.00) rotate(-90)" font-size="18.6" font-weight="normal" textLength="46.96" lengthAdjust="spacingAndGlyphs" stroke="#fff" stroke-width="0.1">C601</text>
<text transform="translate(959,1201.63) rotate(-90)" font-size="18.6" font-weight="normal" textLength="47.61" lengthAdjust="spacingAndGlyphs" stroke="#fff" stroke-width="0.1">R601</text>
<text transform="translate(982.5,1163.55) rotate(-90)" font-size="18.6" font-weight="normal" textLength="49.46" lengthAdjust="spacingAndGlyphs" stroke="#fff" stroke-width="0.1">C636</text>
<text transform="translate(389,1373.73) rotate(-90)" font-size="18.6" font-weight="normal" textLength="50.56" lengthAdjust="spacingAndGlyphs" stroke="#fff" stroke-width="0.1">R610</text>
<text transform="translate(411,1373.06) rotate(-90)" font-size="18.6" font-weight="normal" textLength="49.87" lengthAdjust="spacingAndGlyphs" stroke="#fff" stroke-width="0.1">C610</text>
<text transform="translate(436,1372.74) rotate(-90)" font-size="18.6" font-weight="normal" textLength="50.75" lengthAdjust="spacingAndGlyphs" stroke="#fff" stroke-width="0.1">R609</text>
<text transform="translate(460,1372.74) rotate(-90)" font-size="18.6" font-weight="normal" textLength="50.81" lengthAdjust="spacingAndGlyphs" stroke="#fff" stroke-width="0.1">R607</text>
<text transform="translate(484,1372.74) rotate(-90)" font-size="18.6" font-weight="normal" textLength="50.66" lengthAdjust="spacingAndGlyphs" stroke="#fff" stroke-width="0.1">R608</text>
<text transform="translate(505,1371.02) rotate(-90)" font-size="18.6" font-weight="normal" textLength="47.86" lengthAdjust="spacingAndGlyphs" stroke="#fff" stroke-width="0.1">C615</text>
<text transform="translate(529,1370.69) rotate(-90)" font-size="18.6" font-weight="normal" textLength="49.22" lengthAdjust="spacingAndGlyphs" stroke="#fff" stroke-width="0.1">D602</text>
<text transform="translate(555,1371.05) rotate(-90)" font-size="18.6" font-weight="normal" textLength="49.53" lengthAdjust="spacingAndGlyphs" stroke="#fff" stroke-width="0.1">C609</text>
<text transform="translate(579,1369.65) rotate(-90)" font-size="18.6" font-weight="normal" textLength="48.13" lengthAdjust="spacingAndGlyphs" stroke="#fff" stroke-width="0.1">D601</text>
<text transform="translate(600,1368.53) rotate(-90)" font-size="18.6" font-weight="normal" textLength="48.41" lengthAdjust="spacingAndGlyphs" stroke="#fff" stroke-width="0.1">C608</text>
<text transform="translate(622,1367.50) rotate(-90)" font-size="18.6" font-weight="normal" textLength="47.08" lengthAdjust="spacingAndGlyphs" stroke="#fff" stroke-width="0.1">C604</text>
<text transform="translate(643,1365.91) rotate(-90)" font-size="18.6" font-weight="normal" textLength="46.87" lengthAdjust="spacingAndGlyphs" stroke="#fff" stroke-width="0.1">Q602</text>
<text transform="translate(669,1367.51) rotate(-90)" font-size="18.6" font-weight="normal" textLength="47.51" lengthAdjust="spacingAndGlyphs" stroke="#fff" stroke-width="0.1">C607</text>
<text transform="translate(691,1367.02) rotate(-90)" font-size="18.6" font-weight="normal" textLength="47.90" lengthAdjust="spacingAndGlyphs" stroke="#fff" stroke-width="0.1">C606</text>
<text transform="translate(713,1367.02) rotate(-90)" font-size="18.6" font-weight="normal" textLength="47.90" lengthAdjust="spacingAndGlyphs" stroke="#fff" stroke-width="0.1">C603</text>
<text transform="translate(732.5,1367.02) rotate(-90)" font-size="18.6" font-weight="normal" textLength="48.03" lengthAdjust="spacingAndGlyphs" stroke="#fff" stroke-width="0.1">C602</text>
<text transform="translate(756,1366.66) rotate(-90)" font-size="18.6" font-weight="normal" textLength="48.52" lengthAdjust="spacingAndGlyphs" stroke="#fff" stroke-width="0.1">R605</text>
<text transform="translate(779,1363.89) rotate(-90)" font-size="18.6" font-weight="normal" textLength="45.80" lengthAdjust="spacingAndGlyphs" stroke="#fff" stroke-width="0.1">Q601</text>
<text transform="translate(801,1365.03) rotate(-90)" font-size="18.6" font-weight="normal" textLength="48.55" lengthAdjust="spacingAndGlyphs" stroke="#fff" stroke-width="0.1">C637</text>
<text transform="translate(470,635.60) rotate(-90)" font-size="12" font-weight="normal" textLength="30.97" lengthAdjust="spacingAndGlyphs" stroke="#000" stroke-width="0.5">Q614</text>
<text transform="translate(472.5,723.10) rotate(-90)" font-size="13" font-weight="normal" textLength="31.16" lengthAdjust="spacingAndGlyphs" stroke="#000" stroke-width="0.5">Q613</text>
<text transform="translate(640,663.40) rotate(-90)" font-size="11.5" font-weight="normal" textLength="26.37" lengthAdjust="spacingAndGlyphs" stroke="#000" stroke-width="0.5">R635</text>
<text transform="translate(609,701.91) rotate(-90)" font-size="11.5" font-weight="normal" textLength="26.39" lengthAdjust="spacingAndGlyphs" stroke="#000" stroke-width="0.5">R643</text>
<text transform="translate(641,714.78) rotate(-90)" font-size="9.5" font-weight="normal" textLength="22.75" lengthAdjust="spacingAndGlyphs" stroke="#000" stroke-width="0.5">R641</text>
<text transform="translate(669,692.93) rotate(-90)" font-size="11" font-weight="normal" textLength="22.38" lengthAdjust="spacingAndGlyphs" stroke="#000" stroke-width="0.5">Q611</text>
<text transform="translate(715,669.73) rotate(-90)" font-size="10" font-weight="normal" textLength="21.16" lengthAdjust="spacingAndGlyphs" stroke="#000" stroke-width="0.5">R631</text>
<text transform="translate(684,757.12) rotate(-90)" font-size="14.5" font-weight="normal" textLength="32.77" lengthAdjust="spacingAndGlyphs" stroke="#000" stroke-width="0.5">R639</text>
<text transform="translate(698,704.69) rotate(-90)" font-size="15" font-weight="normal" textLength="32.59" lengthAdjust="spacingAndGlyphs" stroke="#000" stroke-width="0.5">C624</text>
<text transform="translate(581,738.33) rotate(-90)" font-size="17" font-weight="normal" textLength="39.16" lengthAdjust="spacingAndGlyphs" stroke="#000" stroke-width="0.5">C632</text>
<text transform="translate(652,764.73) rotate(-90)" font-size="16" font-weight="normal" textLength="34.46" lengthAdjust="spacingAndGlyphs" stroke="#000" stroke-width="0.5">C627</text>
<text transform="translate(719,759.75) rotate(-90)" font-size="16" font-weight="normal" textLength="35.40" lengthAdjust="spacingAndGlyphs" stroke="#000" stroke-width="0.5">C633</text>
<text transform="translate(526,738.16) rotate(-90)" font-size="13.5" font-weight="normal" textLength="31.28" lengthAdjust="spacingAndGlyphs" stroke="#000" stroke-width="0.5">C629</text>
<text transform="translate(474,849.51) rotate(-90)" font-size="12" font-weight="normal" textLength="23.95" lengthAdjust="spacingAndGlyphs" stroke="#000" stroke-width="0.5">C613</text>
<text transform="translate(532.5,856.09) rotate(-90)" font-size="13" font-weight="normal" textLength="31.67" lengthAdjust="spacingAndGlyphs" stroke="#000" stroke-width="0.5">R616</text>
<text transform="translate(557.5,831.76) rotate(-90)" font-size="11" font-weight="normal" textLength="22.16" lengthAdjust="spacingAndGlyphs" stroke="#000" stroke-width="0.5">R618</text>
<text transform="translate(557.5,869.73) rotate(-90)" font-size="10.5" font-weight="normal" textLength="21.14" lengthAdjust="spacingAndGlyphs" stroke="#000" stroke-width="0.5">R619</text>
<text transform="translate(521,908.64) rotate(-90)" font-size="13" font-weight="normal" textLength="33.25" lengthAdjust="spacingAndGlyphs" stroke="#000" stroke-width="0.5">D603</text>
<text transform="translate(467.5,908.00) rotate(-90)" font-size="11" font-weight="normal" textLength="25.95" lengthAdjust="spacingAndGlyphs" stroke="#000" stroke-width="0.5">Q605</text>
<text transform="translate(591,921.60) rotate(-90)" font-size="13.5" font-weight="normal" textLength="28.11" lengthAdjust="spacingAndGlyphs" stroke="#000" stroke-width="0.5">C618</text>
<text transform="translate(492.5,966.63) rotate(-90)" font-size="14" font-weight="normal" textLength="29.49" lengthAdjust="spacingAndGlyphs" stroke="#000" stroke-width="0.5">C614</text>
<text transform="translate(567.5,963.53) rotate(-90)" font-size="13" font-weight="normal" textLength="30.02" lengthAdjust="spacingAndGlyphs" stroke="#000" stroke-width="0.5">R620</text>
<text transform="translate(645,961.67) rotate(-90)" font-size="15" font-weight="normal" textLength="34.80" lengthAdjust="spacingAndGlyphs" stroke="#000" stroke-width="0.5">Q606</text>
<text transform="translate(619,988.71) rotate(-90)" font-size="15" font-weight="normal" textLength="35.36" lengthAdjust="spacingAndGlyphs" stroke="#000" stroke-width="0.5">R623</text>
<text transform="translate(711,961.74) rotate(-90)" font-size="13" font-weight="normal" textLength="34.93" lengthAdjust="spacingAndGlyphs" stroke="#000" stroke-width="0.5">C619</text>
<text transform="translate(520,995.86) rotate(-90)" font-size="11.5" font-weight="normal" textLength="25.17" lengthAdjust="spacingAndGlyphs" stroke="#000" stroke-width="0.5">D604</text>
<text transform="translate(579,995.82) rotate(-90)" font-size="11" font-weight="normal" textLength="23.80" lengthAdjust="spacingAndGlyphs" stroke="#000" stroke-width="0.5">R621</text>
<text transform="translate(657.5,1008.59) rotate(-90)" font-size="12.5" font-weight="normal" textLength="31.67" lengthAdjust="spacingAndGlyphs" stroke="#000" stroke-width="0.5">R606</text>
<text transform="translate(762.5,1120.22) rotate(-90)" font-size="13" font-weight="normal" textLength="35.66" lengthAdjust="spacingAndGlyphs" stroke="#000" stroke-width="0.5">R604</text>
<text transform="translate(1049.4,344.4) rotate(-90)" font-size="45" xml:space="preserve" stroke="#000" stroke-width="0.7"><tspan x="-0.09" textLength="30.58" lengthAdjust="spacingAndGlyphs">A</tspan><tspan x="31.31" textLength="21.50" lengthAdjust="spacingAndGlyphs">F</tspan> <tspan x="76.03" textLength="22.93" lengthAdjust="spacingAndGlyphs">A</tspan><tspan x="101.72" textLength="48.56" lengthAdjust="spacingAndGlyphs">M</tspan><tspan x="149.41" textLength="22.68" lengthAdjust="spacingAndGlyphs">P</tspan> <tspan x="190.63" textLength="31.54" lengthAdjust="spacingAndGlyphs">U</tspan><tspan x="220.87" textLength="31.93" lengthAdjust="spacingAndGlyphs">N</tspan><tspan x="252.54" textLength="10.72" lengthAdjust="spacingAndGlyphs">I</tspan><tspan x="265.43" textLength="23.66" lengthAdjust="spacingAndGlyphs">T</tspan></text>
<text transform="translate(1106.5,299.7) rotate(-90)" font-size="42" xml:space="preserve" stroke="#000" stroke-width="0.6"><tspan x="-2.79" textLength="22.68" lengthAdjust="spacingAndGlyphs">P</tspan><tspan x="18.97" textLength="23.81" lengthAdjust="spacingAndGlyphs">B</tspan><tspan x="47.62" textLength="20.87" lengthAdjust="spacingAndGlyphs">-</tspan><tspan x="69.49" textLength="12.51" lengthAdjust="spacingAndGlyphs">1</tspan><tspan x="83.66" textLength="25.16" lengthAdjust="spacingAndGlyphs">4</tspan><tspan x="107.33" textLength="24.56" lengthAdjust="spacingAndGlyphs">9</tspan><tspan x="131.08" textLength="25.16" lengthAdjust="spacingAndGlyphs">9</tspan></text>
<text class="mono" x="535" y="1506" font-size="19.5" textLength="46" lengthAdjust="spacingAndGlyphs">2-49</text>
</g>
</svg>
</body></html>
